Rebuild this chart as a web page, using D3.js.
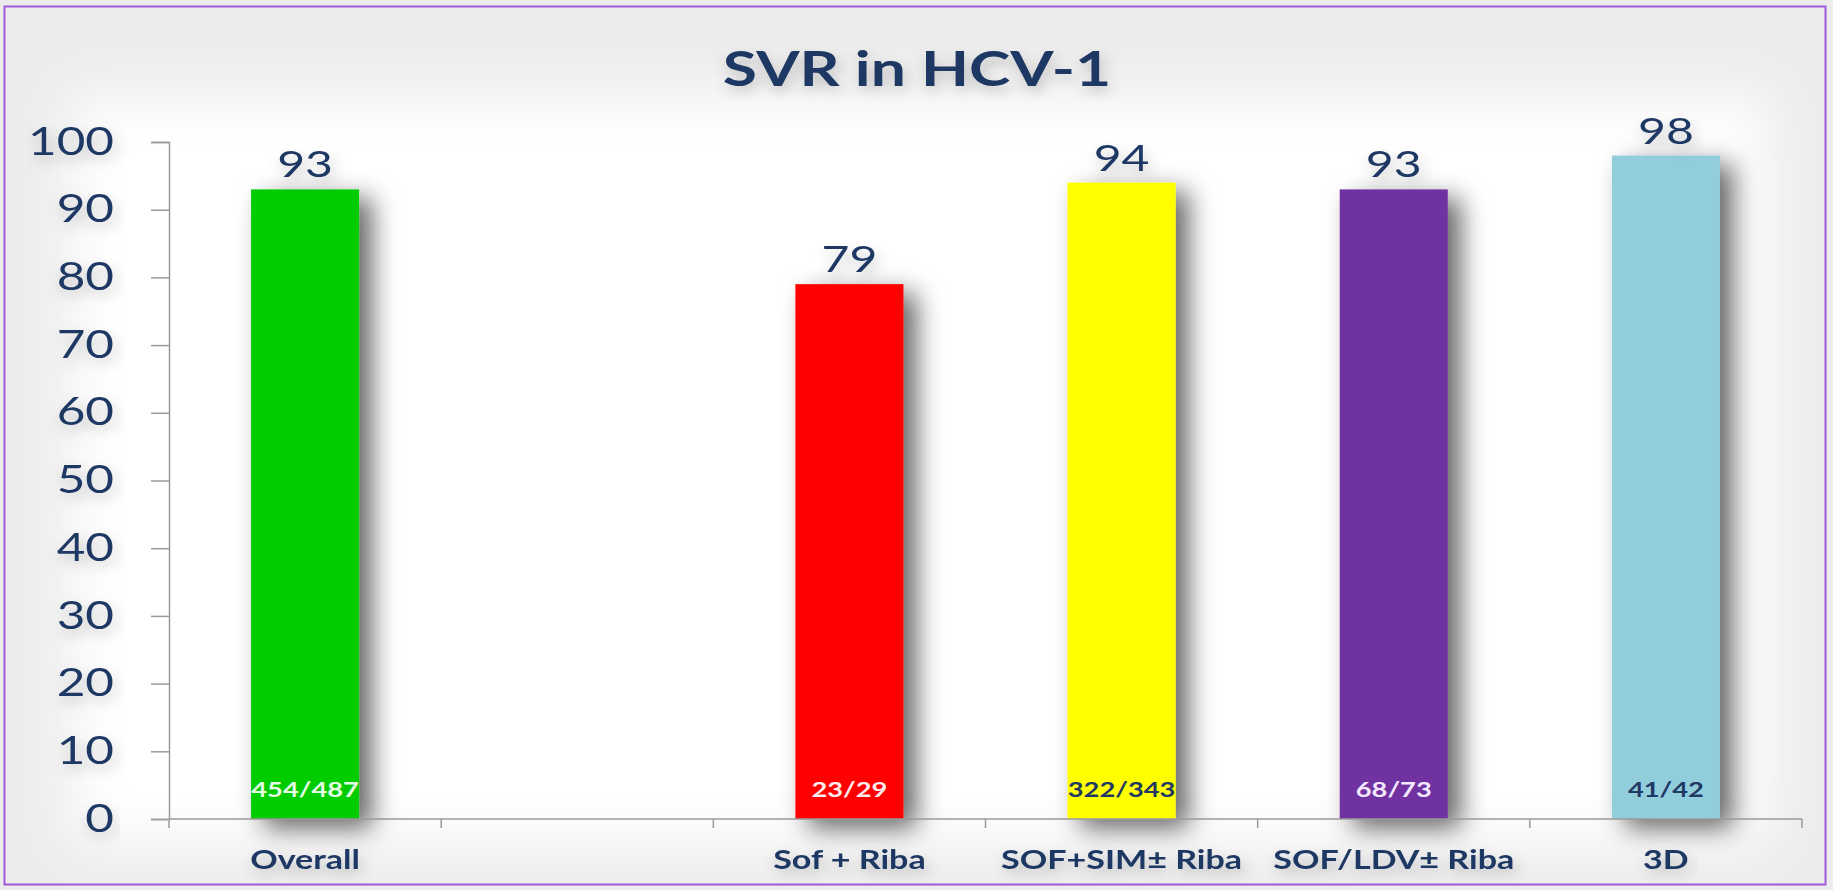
<!DOCTYPE html>
<html>
<head>
<meta charset="utf-8">
<script src="https://cdn.jsdelivr.net/npm/d3@7"></script>
<style>
  body { margin: 0; background: #f3f3f3; }
  svg { display: block; }
</style>
</head>
<body>
<div id="chart"></div>
<script>
// values
const categories = ["Overall", "", "Sof + Riba", "SOF+SIM\u00b1 Riba", "SOF/LDV\u00b1 Riba", "3D"];
const svrValues = [93, null, 79, 94, 93, 98];
const patientCounts = ["454/487", "", "23/29", "322/343", "68/73", "41/42"];
const barColors = ["#00cc00", "none", "#ff0000", "#ffff00", "#7030a0", "#92cddc"];
const countColors = ["#e6fbe6", "none", "#ffecec", "#1f3864", "#f3e8ff", "#1f3864"];

const width = 1833, height = 890;
const SX = 1.3;  // the slide text is stretched sideways
const ink = "#1f3864";
const font = "Lato, 'Open Sans', sans-serif";

const svg = d3.select("#chart").append("svg")
    .attr("width", width)
    .attr("height", height);

const defs = svg.append("defs");

const vig = defs.append("filter").attr("id", "vig")
    .attr("x", "-10%").attr("y", "-10%").attr("width", "120%").attr("height", "120%");
vig.append("feGaussianBlur").attr("stdDeviation", 28);

const barShadow = defs.append("filter").attr("id", "barShadow")
    .attr("x", "-30%").attr("y", "-20%").attr("width", "200%").attr("height", "150%");
barShadow.append("feDropShadow")
    .attr("dx", 13).attr("dy", 9).attr("stdDeviation", 13)
    .attr("flood-color", "#000").attr("flood-opacity", 0.6);

const textShadow = defs.append("filter").attr("id", "textShadow")
    .attr("x", "-20%").attr("y", "-40%").attr("width", "140%").attr("height", "200%");
textShadow.append("feDropShadow")
    .attr("dx", 2).attr("dy", 6).attr("stdDeviation", 6)
    .attr("flood-color", "#000").attr("flood-opacity", 0.22);

// background with grey vignette
svg.append("rect").attr("width", width).attr("height", height).attr("fill", "#ececec");
svg.append("rect")
    .attr("x", 70).attr("y", 95).attr("width", 1700).attr("height", 750)
    .attr("fill", "#fff")
    .attr("filter", "url(#vig)");
svg.append("rect")
    .attr("x", 4.5).attr("y", 6.5).attr("width", 1821).attr("height", 878)
    .attr("fill", "none")
    .attr("stroke", "#a259dc")
    .attr("stroke-width", 2);

const margin = {left: 169, right: 31, top: 142, bottom: 70};

const x = d3.scaleBand()
    .domain(d3.range(categories.length))
    .range([margin.left, width - margin.right])
    .paddingInner(0.603)
    .paddingOuter(0.3015);

const y = d3.scaleLinear()
    .domain([0, 100])
    .range([height - margin.bottom - 1, margin.top]);

// title
svg.append("text")
    .attr("transform", `translate(917,86) scale(${SX},1)`)
    .attr("text-anchor", "middle")
    .attr("fill", ink)
    .attr("filter", "url(#textShadow)")
    .style("font", `bold 48px ${font}`)
    .text("SVR in HCV-1");

// y axis
const yAxis = svg.append("g")
    .attr("transform", `translate(${margin.left},0)`)
    .call(d3.axisLeft(y).ticks(10).tickSize(18).tickPadding(37));

yAxis.select(".domain").attr("stroke", "#9a9a9a").attr("stroke-width", 1.5);
yAxis.selectAll(".tick line").attr("stroke", "#9a9a9a").attr("stroke-width", 1.5);
yAxis.selectAll(".tick text")
    .attr("fill", ink)
    .attr("filter", "url(#textShadow)")
    .style("font", `38px ${font}`)
    .each(function () {
      const t = d3.select(this);
      t.attr("x", +t.attr("x") / SX).attr("transform", `scale(${SX},1)`);
    });

// bars
const idx = d3.range(categories.length).filter(i => svrValues[i] != null);

svg.append("g").selectAll("rect")
    .data(idx)
  .join("rect")
    .attr("x", i => x(i))
    .attr("y", i => y(svrValues[i]))
    .attr("width", x.bandwidth())
    .attr("height", i => y(0) - y(svrValues[i]))
    .attr("fill", i => barColors[i])
    .attr("filter", "url(#barShadow)");

// x axis line with category dividers
const x0 = y(0);
const xAxis = svg.append("g");
xAxis.append("line")
    .attr("x1", x.range()[0]).attr("x2", x.range()[1])
    .attr("y1", x0).attr("y2", x0)
    .attr("stroke", "#9a9a9a").attr("stroke-width", 1.5);
xAxis.selectAll(".div")
    .data(d3.range(categories.length + 1))
  .join("line")
    .attr("class", "div")
    .attr("x1", i => x.range()[0] + i * x.step())
    .attr("x2", i => x.range()[0] + i * x.step())
    .attr("y1", x0).attr("y2", x0 + 9)
    .attr("stroke", "#9a9a9a").attr("stroke-width", 1.5);

// value labels
svg.append("g").selectAll("text")
    .data(idx)
  .join("text")
    .attr("transform", i => `translate(${x(i) + x.bandwidth() / 2},${y(svrValues[i]) - 12}) scale(${SX},1)`)
    .attr("text-anchor", "middle")
    .attr("fill", ink)
    .attr("filter", "url(#textShadow)")
    .style("font", `37px ${font}`)
    .text(i => svrValues[i]);

// patient counts inside bars
svg.append("g").selectAll("text")
    .data(idx)
  .join("text")
    .attr("transform", i => `translate(${x(i) + x.bandwidth() / 2},${x0 - 22}) scale(${SX},1)`)
    .attr("text-anchor", "middle")
    .attr("fill", i => countColors[i])
    .style("font", `bold 21px ${font}`)
    .text(i => patientCounts[i]);

// category labels
svg.append("g").selectAll("text")
    .data(d3.range(categories.length))
  .join("text")
    .attr("transform", i => `translate(${x(i) + x.bandwidth() / 2},869) scale(${SX * 0.97},1)`)
    .attr("text-anchor", "middle")
    .attr("fill", ink)
    .attr("filter", "url(#textShadow)")
    .style("font", `bold 27px ${font}`)
    .text(i => categories[i]);
</script>
</body>
</html>
